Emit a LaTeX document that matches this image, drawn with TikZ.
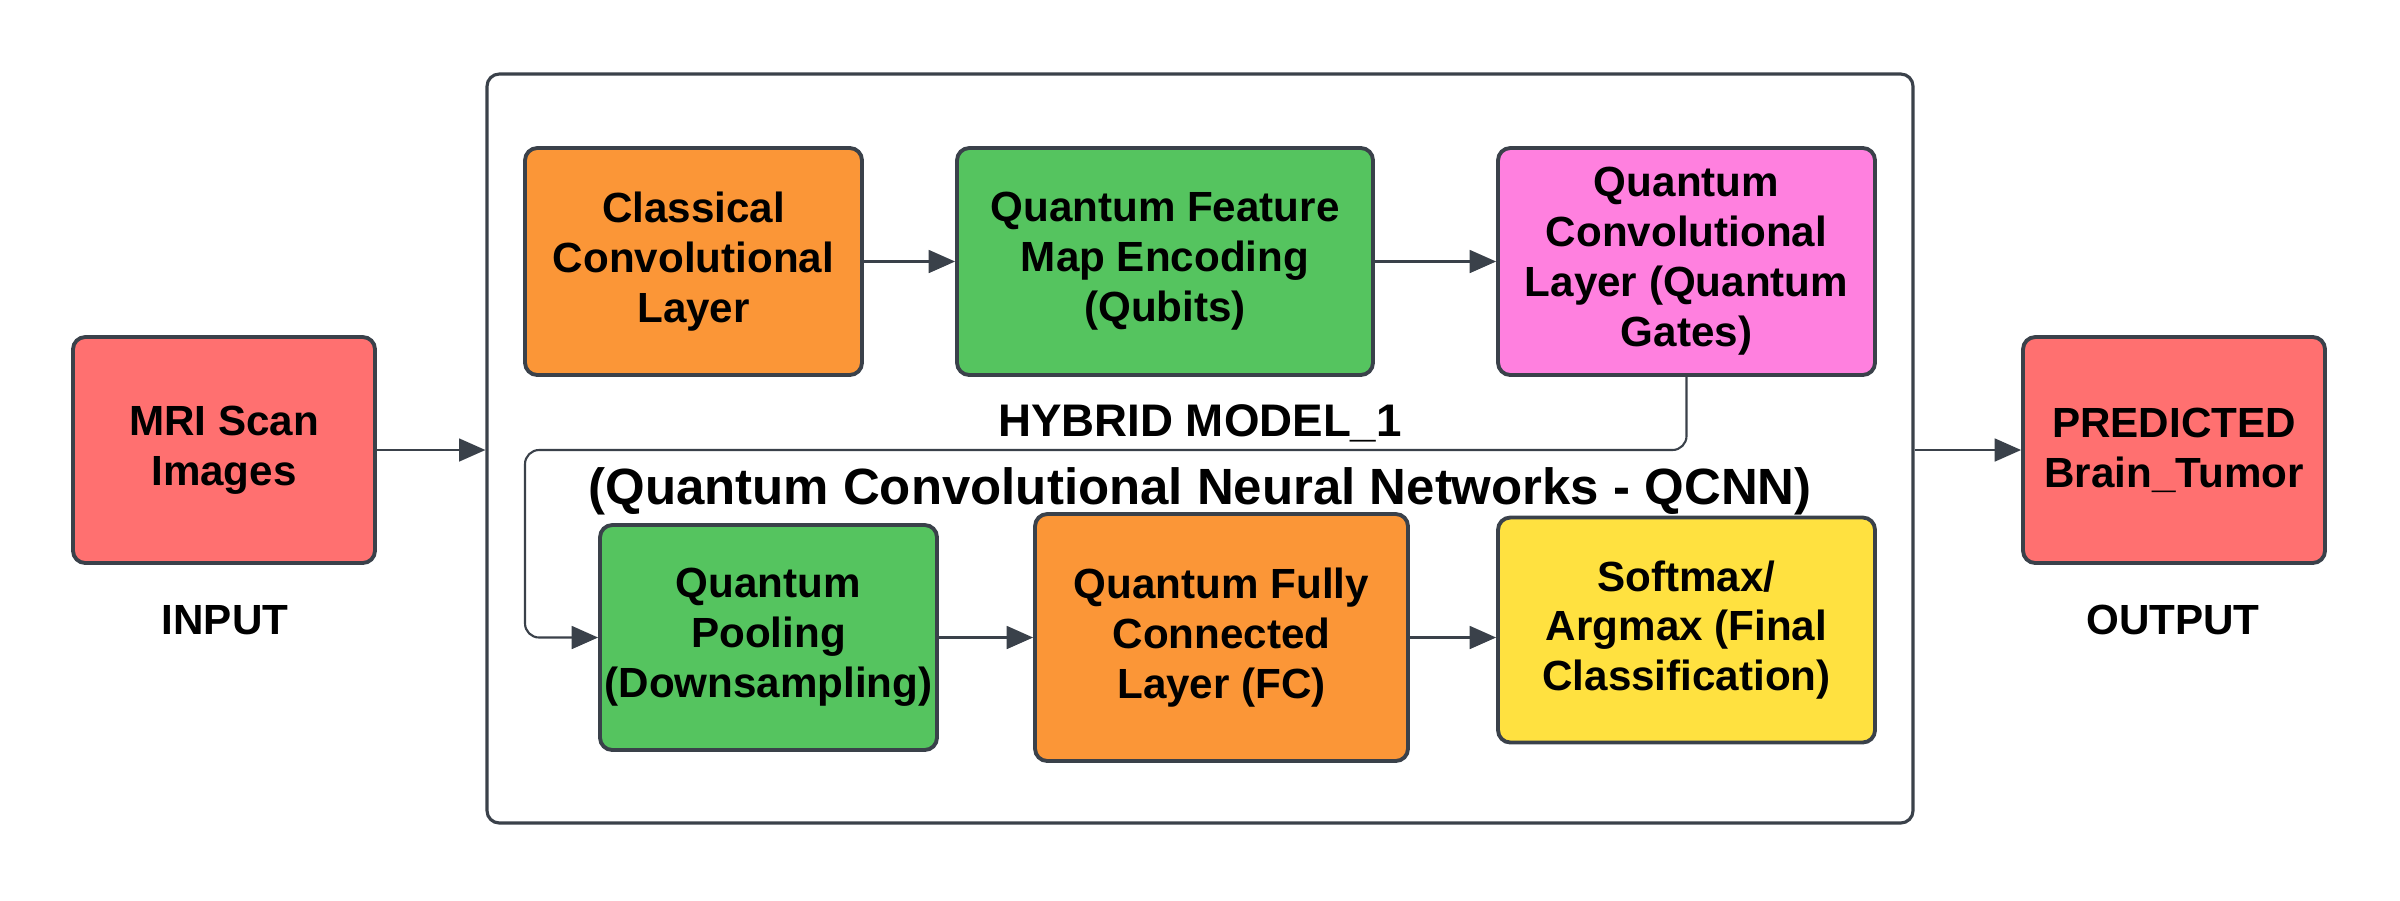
\documentclass[tikz,border=0pt]{standalone}
\usepackage{fontspec}
\setmainfont{Liberation Sans}
\usetikzlibrary{arrows.meta}
\usetikzlibrary{positioning}
\definecolor{edge}{HTML}{3A414A}
\definecolor{redbox}{HTML}{FF7070}
\definecolor{orangebox}{HTML}{FB9637}
\definecolor{greenbox}{HTML}{55C45F}
\definecolor{pinkbox}{HTML}{FF80DF}
\definecolor{yellowbox}{HTML}{FFE140}
\tikzset{layer/.style = {draw = edge, line width = 1.1pt, rounded corners = 3.5pt,
                         align = center, inner sep = 0,
                         font = \fontsize{12}{14.2}\selectfont\bfseries}}
\tikzset{conn/.style = {draw = edge, line width = 0.6pt,
                        -{Triangle[length = 7.5pt, width = 6.5pt]}}}
\tikzset{tag/.style = {font = \fontsize{12}{14.2}\selectfont\bfseries}}

\begin{document}
\begin{tikzpicture}
      \useasboundingbox (0, 0) rectangle (24, -9);
      \node [draw = edge, line width = 0.9pt, rounded corners = 3.5pt,
             minimum width = 14.26cm, minimum height = 7.49cm] (model) at (12, -4.485) {};

      \node [layer, fill = redbox, minimum width = 3.02cm, minimum height = 2.26cm] (mri) at (2.24, -4.5) {MRI Scan\\Images};
      \node [layer, fill = redbox, minimum width = 3.02cm, minimum height = 2.26cm] (pred) at (21.74, -4.5) {PREDICTED\\Brain\_Tumor};
      \node [tag] (input) at (2.25, -6.2) {INPUT};
      \node [tag] (output) at (21.73, -6.2) {OUTPUT};

      \node [layer, fill = orangebox, minimum width = 3.37cm, minimum height = 2.27cm] (classical) at (6.935, -2.615) {Classical\\Convolutional\\Layer};
      \node [layer, fill = greenbox, minimum width = 4.16cm, minimum height = 2.27cm] (featmap) at (11.65, -2.615) {Quantum Feature\\Map Encoding\\(Qubits)};
      \node [layer, fill = pinkbox, minimum width = 3.77cm, minimum height = 2.27cm] (qconv) at (16.865, -2.615) {Quantum\\Convolutional\\Layer (Quantum\\Gates)};

      \node [layer, fill = greenbox, minimum width = 3.37cm, minimum height = 2.25cm] (pool) at (7.685, -6.375) {Quantum\\Pooling\\(Downsampling)};
      \node [layer, fill = orangebox, minimum width = 3.73cm, minimum height = 2.47cm] (fc) at (12.215, -6.375) {Quantum Fully\\Connected\\Layer (FC)};
      \node [layer, fill = yellowbox, minimum width = 3.77cm, minimum height = 2.25cm] (soft) at (16.865, -6.3) {Softmax/\\Argmax (Final\\Classification)};

      \node [align = center, font = \fontsize{14.5}{19.5}\selectfont\bfseries] (title) at (12, -4.6)
            {{\fontsize{13}{19.5}\selectfont HYBRID MODEL\_1}\\(Quantum Convolutional Neural Networks - QCNN)};

      \coordinate (turn) at (5.25, -4.5);
      \draw [conn] (mri.east) -- (mri.east -| model.west);
      \draw [conn] (model.east |- pred.west) -- (pred.west);
      \draw [conn] (classical) -- (featmap);
      \draw [conn] (featmap) -- (qconv);
      \draw [conn, rounded corners = 4pt] (qconv.south) |- (turn) |- (pool.west);
      \draw [conn] (pool) -- (fc);
      \draw [conn] (fc) -- (soft.west |- fc);
    \end{tikzpicture}
\end{document}
